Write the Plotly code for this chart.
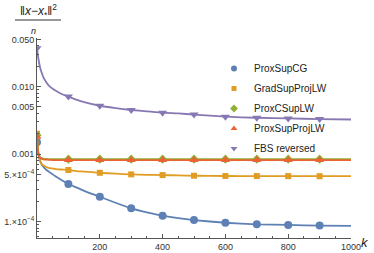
import plotly.graph_objects as go

# ---------------- data ----------------
k = [0, 2, 5, 10, 15, 20, 30, 40, 50, 60, 75, 100, 125, 150, 200, 250, 300,
     350, 400, 450, 500, 600, 700, 800, 900, 1000]

prox_sup_cg = [1.5e-3, 1.15e-3, 9.5e-4, 8.0e-4, 7.0e-4, 6.5e-4, 5.8e-4, 5.4e-4,
               5.0e-4, 4.65e-4, 4.2e-4, 3.6e-4, 3.2e-4, 2.85e-4, 2.33e-4, 1.9e-4,
               1.57e-4, 1.37e-4, 1.22e-4, 1.12e-4, 1.05e-4, 9.6e-5, 9.1e-5,
               8.9e-5, 8.7e-5, 8.6e-5]
grad_sup_proj_lw = [2.0e-3, 1.4e-3, 1.0e-3, 7.8e-4, 7.1e-4, 6.8e-4, 6.4e-4, 6.2e-4,
                    6.1e-4, 6.0e-4, 5.9e-4, 5.8e-4, 5.6e-4, 5.5e-4, 5.28e-4, 5.12e-4,
                    5.0e-4, 4.93e-4, 4.88e-4, 4.82e-4, 4.77e-4, 4.73e-4, 4.72e-4,
                    4.71e-4, 4.70e-4, 4.70e-4]
prox_c_sup_lw = [1.9e-3, 1.3e-3, 1.0e-3, 9.0e-4, 8.7e-4, 8.55e-4, 8.45e-4, 8.4e-4,
                 8.4e-4, 8.4e-4, 8.4e-4, 8.4e-4, 8.4e-4, 8.4e-4, 8.4e-4, 8.4e-4,
                 8.4e-4, 8.4e-4, 8.4e-4, 8.4e-4, 8.4e-4, 8.4e-4, 8.4e-4, 8.4e-4,
                 8.4e-4, 8.4e-4]
prox_sup_proj_lw = [1.8e-3, 1.25e-3, 9.8e-4, 8.8e-4, 8.5e-4, 8.35e-4, 8.25e-4, 8.2e-4,
                    8.15e-4, 8.15e-4, 8.15e-4, 8.15e-4, 8.15e-4, 8.15e-4, 8.15e-4,
                    8.15e-4, 8.15e-4, 8.15e-4, 8.15e-4, 8.15e-4, 8.15e-4, 8.15e-4,
                    8.15e-4, 8.15e-4, 8.15e-4, 8.15e-4]
fbs_reversed = [0.037, 0.031, 0.025, 0.019, 0.016, 0.0138, 0.0115, 0.0101, 0.0093,
                0.0087, 0.0079, 0.0071, 0.0064, 0.0059, 0.0052, 0.0048, 0.0045,
                0.0043, 0.0041, 0.0040, 0.00385, 0.00358, 0.00345, 0.00337,
                0.00330, 0.00325]

series_names = ["ProxSupCG", "GradSupProjLW", "ProxCSupLW", "ProxSupProjLW", "FBS reversed"]

x_tick_vals = [200, 400, 600, 800, 1000]
x_tick_text = ["200", "400", "600", "800", "1000"]
y_tick_vals = [0.05, 0.01, 0.005, 0.001, 5e-4, 1e-4]
y_tick_text = ["0.050", "0.010", "0.005", "0.001", "5.×10<sup>−4</sup>", "1.×10<sup>−4</sup>"]

# ---------------- styling ----------------
series = [prox_sup_cg, grad_sup_proj_lw, prox_c_sup_lw, prox_sup_proj_lw, fbs_reversed]
colors = ["#5E81B5", "#E19C24", "#8FB032", "#EB6235", "#8778B3"]
symbols = ["circle", "square", "diamond", "triangle-up", "triangle-down"]
msizes = [8, 6, 7, 8, 8]
lsizes = [6, 5, 6, 6, 6]

W, H = 374, 253
L, R, T, B = 37, 23, 38, 15
pw, ph = W - L - R, H - T - B


def px(xp):
    return (xp - L) / pw


def py(yp):
    return (H - B - yp) / ph


fig = go.Figure()
for vals, name, c, s, ms in zip(series, series_names, colors, symbols, msizes):
    fig.add_trace(go.Scatter(x=k, y=vals, mode="lines", line=dict(color=c, width=1.8, shape="spline", smoothing=0.5),
                             showlegend=False, hoverinfo="skip"))
    mk = [kk for kk in k if kk % 100 == 0 and kk < 1000]
    mv = [v for kk, v in zip(k, vals) if kk % 100 == 0 and kk < 1000]
    fig.add_trace(go.Scatter(x=mk, y=mv, mode="markers",
                             marker=dict(color=c, symbol=s, size=ms, line=dict(width=0)),
                             showlegend=False))

for name, c, s, ls in zip(series_names, colors, symbols, lsizes):
    fig.add_trace(go.Scatter(x=[None], y=[None], mode="markers", name=name, legendgroup=name,
                             marker=dict(color=c, symbol=s, size=ls, line=dict(width=0))))

axis_color = "#555555"
tick_font = dict(family="Liberation Sans, Arial, sans-serif", size=9, color="#333333")

fig.update_xaxes(range=[0, 1000], showgrid=False, zeroline=False, showline=True,
                 linecolor=axis_color, linewidth=1, ticks="inside", ticklen=4,
                 tickcolor=axis_color, tickvals=x_tick_vals, ticktext=x_tick_text,
                 tickfont=tick_font,
                 minor=dict(tickmode="linear", tick0=0, dtick=50, ticks="inside", ticklen=2,
                            tickcolor=axis_color, showgrid=False))

minor_y = []
for dec in [1e-5, 1e-4, 1e-3, 1e-2]:
    for m in range(1, 10):
        v = m * dec
        if 5.5e-5 < v < 0.052 and not any(abs(v - t) / t < 1e-6 for t in y_tick_vals):
            minor_y.append(v)

fig.update_yaxes(type="log", range=[-4.244, -1.28], showgrid=False, zeroline=False,
                 showline=True, linecolor=axis_color, linewidth=1, ticks="inside",
                 ticklen=4, tickcolor=axis_color, tickvals=y_tick_vals, ticktext=y_tick_text,
                 tickfont=tick_font,
                 minor=dict(tickmode="array", tickvals=minor_y, ticks="inside", ticklen=2,
                            tickcolor=axis_color, showgrid=False))

label_font = dict(family="Liberation Sans, Arial, sans-serif", color="#222222")
fig.update_layout(
    width=W, height=H,
    margin=dict(l=L, r=R, t=T, b=B, pad=0, autoexpand=False),
    paper_bgcolor="white", plot_bgcolor="white",
    showlegend=True,
    legend=dict(x=px(214), y=py(54), xanchor="left", yanchor="top",
                font=dict(family="Liberation Sans, Arial, sans-serif", size=10, color="#222222"),
                bgcolor="rgba(0,0,0,0)", tracegroupgap=1, itemwidth=30),
    annotations=[
        dict(x=0, xshift=38 - L, y=py(11), xref="paper", yref="paper", showarrow=False,
             text="‖<i>x</i>−<i>x</i><sub>*</sub>‖<sup>2</sup>", xanchor="center", yanchor="middle",
             font=dict(size=12, **label_font)),
        dict(x=0, xshift=33 - L, y=py(31), xref="paper", yref="paper", showarrow=False,
             text="<i>n</i>", xanchor="center", yanchor="middle",
             font=dict(size=9, **label_font)),
        dict(x=px(365), y=py(243), xref="paper", yref="paper", showarrow=False,
             text="<i>k</i>", xanchor="center", yanchor="middle",
             font=dict(size=13, **label_font)),
    ],
    shapes=[dict(type="line", xref="paper", yref="paper", x0=px(15), x1=px(61),
                 y0=py(20), y1=py(20), layer="above", line=dict(color="#333333", width=1))],
)

fig.write_html("out.html", config={"displayModeBar": False},
               post_script="document.body.style.margin='0';document.body.style.overflow='hidden';")
